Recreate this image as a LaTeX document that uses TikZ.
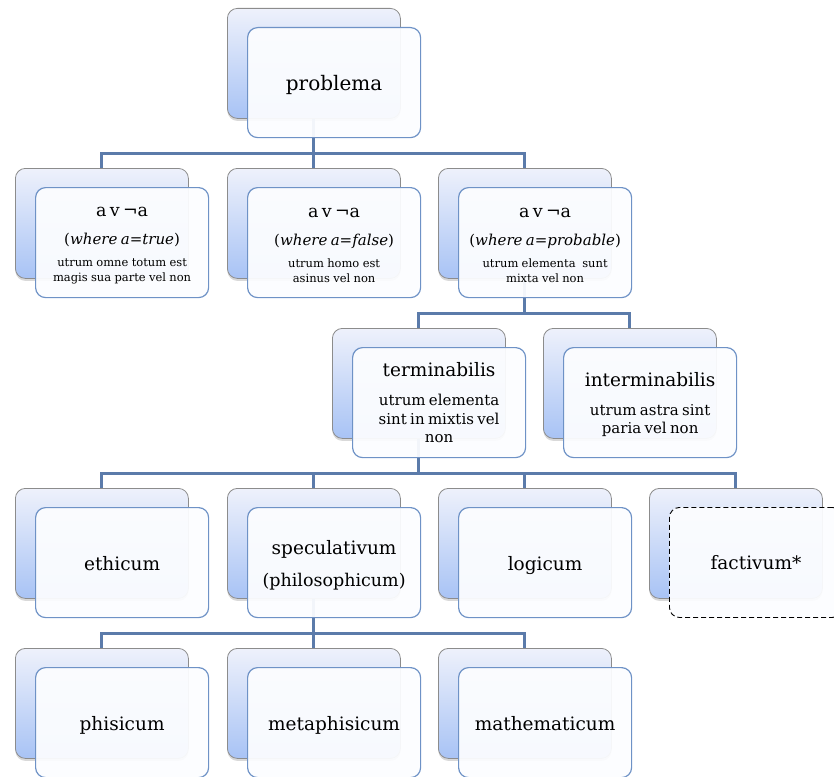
\documentclass[tikz,border=0pt]{standalone}
\usepackage{fontspec}
\setmainfont{DejaVu Serif}
\usetikzlibrary{shadows,calc}
\definecolor{conn}{RGB}{91,123,170}
\definecolor{frontline}{RGB}{110,146,198}
\definecolor{backline}{RGB}{140,140,140}
\definecolor{backtop}{RGB}{238,241,251}
\definecolor{backbot}{RGB}{168,195,245}
\definecolor{frontfill}{RGB}{252,253,255}
\newcommand\fs[2]{\fontsize{#1}{#2}\selectfont}
\newcommand\onelabel[1]{\rule{0pt}{15pt}\smash{#1}\par}
\newcommand\topstrut[1]{\rule{0pt}{#1}}
\tikzset{
 backbox/.style={anchor=north west, minimum width=173pt, minimum height=110pt, inner sep=0pt,
   rounded corners=10pt, draw=backline, line width=0.8pt, top color=backtop, bottom color=backbot,
   drop shadow={shadow xshift=0pt, shadow yshift=-2.5pt, opacity=0.3}},
 frontbox/.style={anchor=north west, minimum width=173pt, minimum height=110pt, text width=165pt,
   inner xsep=4pt, inner ysep=0pt, align=center, rounded corners=10pt, draw=frontline,
   line width=1.2pt, fill=frontfill, fill opacity=0.94, text opacity=1},
 dashfront/.style={frontbox, draw=black, line width=0.9pt, dash pattern=on 5pt off 3pt},
 conline/.style={draw=conn, line width=3pt},
 lbl/.style={font=\fs{18.5}{22}}
}
\begin{document}
\begin{tikzpicture}[x=1pt,y=-1pt]
\path[use as bounding box, clip] (0,0) rectangle (834,776);
% back boxes
\node[backbox] (prob-b) at (227,8) {};
\node[backbox] (r2a-b) at (15,168) {};
\node[backbox] (r2b-b) at (227,168) {};
\node[backbox] (r2c-b) at (438,168) {};
\node[backbox] (term-b) at (332,328) {};
\node[backbox] (inter-b) at (543,328) {};
\node[backbox] (eth-b) at (15,488) {};
\node[backbox] (spec-b) at (227,488) {};
\node[backbox] (log-b) at (438,488) {};
\node[backbox] (fact-b) at (649,488) {};
\node[backbox] (phis-b) at (15,648) {};
\node[backbox] (meta-b) at (227,648) {};
\node[backbox] (math-b) at (438,648) {};
% invisible front outlines (for connector levels)
\node[frontbox, draw=none, fill=none] (prob) at ($(prob-b.north west)+(20,19)$) {};
\node[frontbox, draw=none, fill=none] (r2c) at ($(r2c-b.north west)+(20,19)$) {};
\node[frontbox, draw=none, fill=none] (term) at ($(term-b.north west)+(20,19)$) {};
\node[frontbox, draw=none, fill=none] (spec) at ($(spec-b.north west)+(20,19)$) {};
% connectors
\foreach \c in {r2a,r2b,r2c}
  \draw[conline] (prob-b.south) |- ($(prob.south)!.5!(\c-b.north)$) -| (\c-b.north);
\foreach \c in {term,inter}
  \draw[conline] (r2c-b.south) |- ($(r2c.south)!.5!(\c-b.north)$) -| (\c-b.north);
\foreach \c in {eth,spec,log,fact}
  \draw[conline] (term-b.south) |- ($(term.south)!.5!(\c-b.north)$) -| (\c-b.north);
\foreach \c in {phis,meta,math}
  \draw[conline] (spec-b.south) |- ($(spec.south)!.5!(\c-b.north)$) -| (\c-b.north);
% front boxes
\node[frontbox] (prob-f) at ($(prob-b.north west)+(20,19)$) {\fs{20}{24}\onelabel{problema}};
\node[frontbox] (r2a-f) at ($(r2a-b.north west)+(20,19)$) {\fs{17.5}{20}\topstrut{15.5pt}a v ¬a\par
  \fs{15}{27.5}(\textit{where a=true})\par
  \fs{11.5}{22}utrum omne totum est\par
  \fs{11.5}{15.5}magis sua parte vel non\par};
\node[frontbox] (r2b-f) at ($(r2b-b.north west)+(20,19)$) {\fs{17.5}{20}\topstrut{15.5pt}a v ¬a\par
  \fs{15}{27.5}(\textit{where a=false})\par
  \fs{11.5}{22}utrum homo est\par
  \fs{11.5}{15.5}asinus vel non\par};
\node[frontbox] (r2c-f) at ($(r2c-b.north west)+(20,19)$) {\fs{17.5}{20}\topstrut{15.5pt}a v ¬a\par
  \fs{15}{27.5}(\textit{where a=probable})\par
  \fs{11.5}{22}utrum elementa\ \ sunt\par
  \fs{11.5}{15.5}mixta vel non\par};
\node[frontbox] (term-f) at ($(term-b.north west)+(20,19)$) {\fs{18.5}{22}terminabilis\par
  \fs{15}{29.5}utrum elementa\par
  \fs{15}{18.5}sint in mixtis vel\\non\par};
\node[frontbox] (inter-f) at ($(inter-b.north west)+(20,19)$) {\fs{18.5}{22}\topstrut{18pt}interminabilis\par
  \fs{15}{29}utrum astra sint\par
  \fs{15}{18}paria vel non\par};
\node[frontbox, lbl] (eth-f) at ($(eth-b.north west)+(20,19)$) {\onelabel{ethicum}};
\node[frontbox] (spec-f) at ($(spec-b.north west)+(20,19)$) {\fs{18.5}{22}\topstrut{20pt}speculativum\par
  \fs{17.5}{32}(philosophicum)\par};
\node[frontbox, lbl] (log-f) at ($(log-b.north west)+(20,19)$) {\onelabel{logicum}};
\node[dashfront, lbl] (fact-f) at ($(fact-b.north west)+(20,19)$) {\onelabel{factivum*}};
\node[frontbox, lbl] (phis-f) at ($(phis-b.north west)+(20,19)$) {\onelabel{phisicum}};
\node[frontbox, lbl] (meta-f) at ($(meta-b.north west)+(20,19)$) {\onelabel{metaphisicum}};
\node[frontbox, lbl] (math-f) at ($(math-b.north west)+(20,19)$) {\onelabel{mathematicum}};
\end{tikzpicture}
\end{document}
